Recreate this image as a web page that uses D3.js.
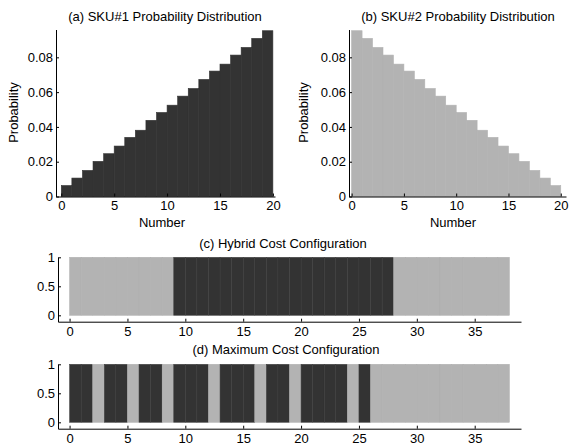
<!DOCTYPE html>
<html>
<head>
<meta charset="utf-8">
<script src="https://cdn.jsdelivr.net/npm/d3@7"></script>
<style>
  body { margin: 0; background: #fff; }
  svg { display: block; font-family: "Liberation Sans", Arial, Helvetica, sans-serif; }
  .axis text { font-size: 13px; fill: #000; }
  .axis path, .axis line { stroke: #000; stroke-width: 1; }
  .lbl { font-size: 13px; fill: #000; }
</style>
</head>
<body>
<svg id="chart" width="569" height="447"></svg>
<script>
// values
const numbers = [0, 1, 2, 3, 4, 5, 6, 7, 8, 9, 10, 11, 12, 13, 14, 15, 16, 17, 18, 19];
const sku1Prob = [0.0063, 0.0106, 0.0150, 0.0202, 0.0246, 0.0290, 0.0340, 0.0381, 0.0438, 0.0483,
                  0.0525, 0.0577, 0.0621, 0.0673, 0.0721, 0.0761, 0.0813, 0.0857, 0.0909, 0.0953];
const sku2Prob = [0.0953, 0.0909, 0.0857, 0.0813, 0.0761, 0.0721, 0.0673, 0.0621, 0.0577, 0.0525,
                  0.0483, 0.0438, 0.0381, 0.0340, 0.0290, 0.0246, 0.0202, 0.0150, 0.0106, 0.0063];
const probTicks = [0, 0.02, 0.04, 0.06, 0.08];
const numberTicks = [0, 5, 10, 15, 20];

// 1 = dark (SKU#1), 0 = light (SKU#2), one cell per slot
const hybridConfig = [0, 0, 0, 0, 0, 0, 0, 0, 0,
                      1, 1, 1, 1, 1, 1, 1, 1, 1, 1, 1, 1, 1, 1, 1, 1, 1, 1, 1,
                      0, 0, 0, 0, 0, 0, 0, 0, 0, 0];
const maxConfig = [1, 1, 0, 1, 1, 0, 1, 1, 0, 1, 1, 1, 0, 1, 1, 1, 0, 1, 1, 0, 1, 1, 1, 1, 0, 1,
                   0, 0, 0, 0, 0, 0, 0, 0, 0, 0, 0, 0];
const slotTicks = [0, 5, 10, 15, 20, 25, 30, 35];
const levelTicks = [0, 0.5, 1];

const dark = "#333333";
const light = "#b3b3b3";

const svg = d3.select("#chart");

function drawProbPanel(opt) {
    const x = d3.scaleLinear().domain(opt.xDomain).range(opt.xRange);
    const y = d3.scaleLinear().domain([0, 0.096]).range([196.5, 29.5]);
    const g = svg.append("g");

    g.selectAll(".bar")
        .data(opt.values)
        .join("rect")
        .attr("class", "bar")
        .attr("x", (d, i) => x(numbers[i]))
        .attr("width", (d, i) => x(numbers[i] + 1) - x(numbers[i]))
        .attr("y", d => y(d))
        .attr("height", d => y(0) - y(d))
        .attr("fill", opt.color)
        .attr("stroke", opt.color)
        .attr("stroke-width", 0.6);

    g.append("g")
        .attr("class", "axis")
        .attr("transform", `translate(0,${y(0)})`)
        .call(d3.axisBottom(x).tickValues(numberTicks).tickSize(-3).tickSizeOuter(0).tickPadding(4));

    g.append("g")
        .attr("class", "axis")
        .attr("transform", `translate(${opt.xRange[0]},0)`)
        .call(d3.axisLeft(y).tickValues(probTicks).tickFormat(d => d === 0 ? "0" : d3.format(".2f")(d))
            .tickSize(-3).tickSizeOuter(0).tickPadding(3));

    g.append("text").attr("class", "lbl")
        .attr("x", opt.titleX).attr("y", 21)
        .attr("text-anchor", "middle")
        .text(opt.title);

    g.append("text").attr("class", "lbl")
        .attr("x", opt.numberX).attr("y", 226.5)
        .attr("text-anchor", "middle")
        .text("Number");

    g.append("text").attr("class", "lbl")
        .attr("transform", `translate(${opt.probX},112.5) rotate(-90)`)
        .attr("text-anchor", "middle")
        .text("Probability");
}

function drawConfigPanel(opt) {
    const x = d3.scaleLinear().domain([-1, 39]).range([58, 521]);
    const y = d3.scaleLinear().domain([-0.11, 1]).range([opt.bottom, opt.top]);
    const g = svg.append("g");

    g.selectAll(".cell")
        .data(opt.values)
        .join("rect")
        .attr("class", "cell")
        .attr("x", (d, i) => x(i))
        .attr("width", (d, i) => x(i + 1) - x(i))
        .attr("y", y(1))
        .attr("height", y(0) - y(1))
        .attr("fill", d => d ? dark : light)
        .attr("stroke", d => d ? "#3c3c3c" : "#aeaeae")
        .attr("stroke-width", 0.5);

    g.append("g")
        .attr("class", "axis")
        .attr("transform", `translate(0,${opt.bottom})`)
        .call(d3.axisBottom(x).tickValues(slotTicks).tickSize(-3).tickSizeOuter(0).tickPadding(5));

    g.append("g")
        .attr("class", "axis")
        .attr("transform", "translate(58,0)")
        .call(d3.axisLeft(y).tickValues(levelTicks).tickFormat(d3.format("")).tickSize(-3).tickSizeOuter(0).tickPadding(3));

    g.append("text").attr("class", "lbl")
        .attr("x", opt.titleX).attr("y", opt.titleY)
        .attr("text-anchor", "middle")
        .text(opt.title);
}

drawProbPanel({
    values: sku1Prob, color: dark,
    xDomain: [-0.5, 20.2], xRange: [56, 275],
    title: "(a) SKU#1 Probability Distribution", titleX: 165, numberX: 162, probX: 18
});

drawProbPanel({
    values: sku2Prob, color: light,
    xDomain: [-0.25, 20.5], xRange: [349, 566],
    title: "(b) SKU#2 Probability Distribution", titleX: 458, numberX: 453, probX: 308
});

drawConfigPanel({
    values: hybridConfig, top: 257.3, bottom: 321.7,
    title: "(c) Hybrid Cost Configuration", titleX: 283, titleY: 247.5
});

drawConfigPanel({
    values: maxConfig, top: 364.3, bottom: 428.7,
    title: "(d) Maximum Cost Configuration", titleX: 286, titleY: 354
});
</script>
</body>
</html>
